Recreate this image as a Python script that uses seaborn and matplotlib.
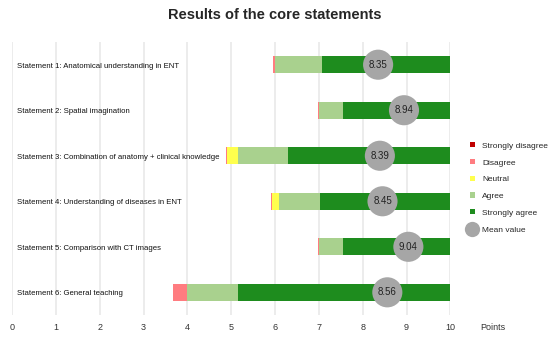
import numpy as np
import pandas as pd
import matplotlib
matplotlib.use("Agg")
import matplotlib.pyplot as plt
import seaborn as sns
from matplotlib.patches import Patch
from matplotlib.lines import Line2D

# Aussagen (von oben nach unten)
statements = [
    "Statement 1: Anatomical understanding in ENT",
    "Statement 2: Spatial imagination",
    "Statement 3: Combination of anatomy + clinical knowledge",
    "Statement 4: Understanding of diseases in ENT",
    "Statement 5: Comparison with CT images",
    "Statement 6: General teaching",
]
# Segmentbreiten in Punkten (rechtsbündig bis 10 gestapelt)
strongly_disagree = [0.00, 0.00, 0.00, 0.00, 0.00, 0.00]
disagree          = [0.03, 0.03, 0.03, 0.03, 0.03, 0.30]
neutral           = [0.00, 0.00, 0.24, 0.17, 0.00, 0.00]
agree             = [1.09, 0.56, 1.15, 0.92, 0.56, 1.18]
strongly_agree    = [2.92, 2.44, 3.70, 2.98, 2.44, 4.84]
mean_values       = [8.35, 8.94, 8.39, 8.45, 9.04, 8.56]

categories = ["Strongly disagree", "Disagree", "Neutral", "Agree", "Strongly agree"]
colors = ["#C00000", "#FF7C80", "#FFFF4D", "#A9D18E", "#1E8C1E"]

sns.set_theme(style="white")
plt.rcParams["font.family"] = ["Liberation Sans", "DejaVu Sans"]

fig = plt.figure(figsize=(5.5, 3.41), dpi=100)
ax = fig.add_axes([0.022, 0.076, 0.797, 0.801])

segs = np.array([strongly_disagree, disagree, neutral, agree, strongly_agree])
ypos = np.arange(len(statements))
left = 10 - segs.sum(axis=0)
for w, c in zip(segs, colors):
    ax.barh(ypos, w, left=left, height=0.37, color=c, linewidth=0, zorder=2)
    left = left + w

df = pd.DataFrame({"y": ypos, "mean": mean_values})
sns.scatterplot(data=df, x="mean", y="y", s=470, color="#A6A6A6",
                edgecolor="none", ax=ax, zorder=3, legend=False)
for m, y in zip(mean_values, ypos):
    ax.text(m, y, f"{m:.2f}", ha="center", va="center", fontsize=7, color="#222222", zorder=4)

for s, y in zip(statements, ypos):
    ax.text(0.12, y + 0.03, s, ha="left", va="center", fontsize=5.6, color="#111111", zorder=4)

ax.set_xlim(0, 10)
ax.set_ylim(5.5, -0.5)
ax.set_xticks(range(11))
ax.set_yticks([])
ax.set_xlabel("")
ax.set_ylabel("")
ax.tick_params(axis="x", labelsize=6.5, length=0, pad=6, colors="#333333")
ax.grid(axis="x", color="#EBEBEB", linewidth=1.3, zorder=0)
ax.set_axisbelow(True)
sns.despine(ax=ax, left=True, bottom=True)
fig.text(480 / 550, 1 - 327 / 341, "Points", fontsize=6.5, color="#333333", va="center")

fig.text(0.5, 0.955, "Results of the core statements", ha="center", va="center",
         fontsize=10.5, fontweight="bold")

handles = [Patch(facecolor=c, edgecolor="none") for c in colors]
handles.append(Line2D([], [], marker="o", linestyle="none", markersize=11,
                      markerfacecolor="#A6A6A6", markeredgecolor="none"))
leg = fig.legend(handles, categories + ["Mean value"], loc="upper left",
                 bbox_to_anchor=(0.84, 0.605), frameon=False, fontsize=6,
                 handlelength=0.6, handleheight=0.6, handletextpad=0.9, labelspacing=1.1)

fig.savefig("out.png", dpi=100)
